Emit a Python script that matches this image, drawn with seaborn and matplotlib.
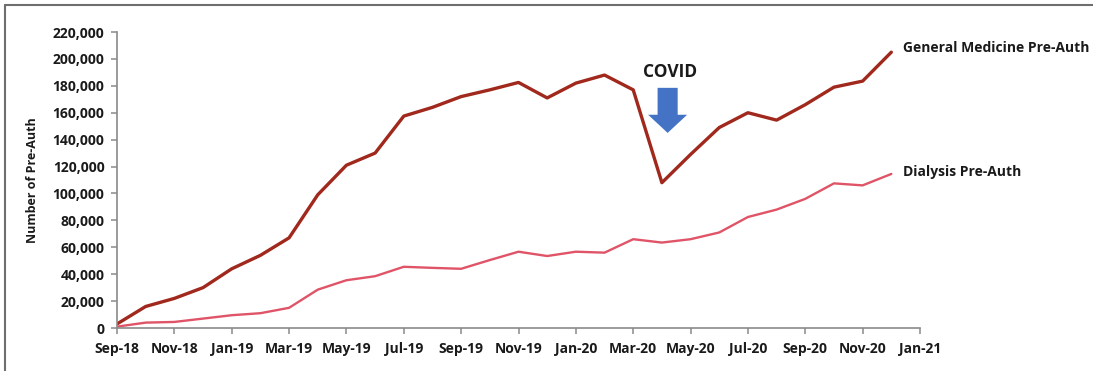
#!/usr/bin/env python3
import numpy as np
import pandas as pd
import matplotlib
matplotlib.use('Agg')
import matplotlib.pyplot as plt
from matplotlib.lines import Line2D
from matplotlib.patches import FancyArrow
import seaborn as sns

# monthly data, Sep-18 .. Dec-20
months = ['Sep-18', 'Oct-18', 'Nov-18', 'Dec-18', 'Jan-19', 'Feb-19', 'Mar-19',
          'Apr-19', 'May-19', 'Jun-19', 'Jul-19', 'Aug-19', 'Sep-19', 'Oct-19',
          'Nov-19', 'Dec-19', 'Jan-20', 'Feb-20', 'Mar-20', 'Apr-20', 'May-20',
          'Jun-20', 'Jul-20', 'Aug-20', 'Sep-20', 'Oct-20', 'Nov-20', 'Dec-20']
general_medicine = [3000, 16000, 22000, 30000, 44000, 54000, 67000,
                    99000, 121000, 130000, 157500, 164000, 172000, 177000,
                    182500, 171000, 182000, 188000, 177000, 108000, 129000,
                    149000, 160000, 154500, 166000, 179000, 183500, 205000]
dialysis = [1000, 4000, 4500, 7000, 9500, 11000, 15000,
            28500, 35500, 38500, 45500, 44700, 44000, 50500,
            56700, 53500, 56700, 56000, 66000, 63500, 66000,
            71000, 82500, 88000, 96000, 107500, 106000, 114500]
tick_labels = ['Sep-18', 'Nov-18', 'Jan-19', 'Mar-19', 'May-19', 'Jul-19', 'Sep-19',
               'Nov-19', 'Jan-20', 'Mar-20', 'May-20', 'Jul-20', 'Sep-20', 'Nov-20', 'Jan-21']
series_names = ['General Medicine Pre-Auth', 'Dialysis Pre-Auth']
colors = ['#A0281C', '#E05468']

df = pd.DataFrame({
    'month': list(range(len(months))) * 2,
    'value': general_medicine + dialysis,
    'series': [series_names[0]] * len(months) + [series_names[1]] * len(months),
})

sns.set_style('white')
plt.rcParams['font.family'] = ['Open Sans', 'DejaVu Sans']
plt.rcParams['text.color'] = '#1a1a1a'

fig = plt.figure(figsize=(10.93, 3.71), dpi=100)
ax = fig.add_axes([117 / 1093, 43 / 371, 803 / 1093, 296 / 371])

sns.lineplot(data=df, x='month', y='value', hue='series', palette=colors,
             size='series', sizes=[2.4, 1.7], legend=False, ax=ax)

fs = 10
ax.set_xlim(0, 28)
ax.set_ylim(0, 220000)
ax.set_xticks(range(0, 29, 2))
ax.set_xticklabels(tick_labels, fontsize=fs, fontweight='bold', color='#1a1a1a')
ax.set_yticks(range(0, 220001, 20000))
ax.set_yticklabels([f'{v:,}' for v in range(0, 220001, 20000)], fontsize=fs,
                   fontweight='bold', color='#1a1a1a')
ax.set_xlabel('')
ax.set_ylabel('Number of Pre-Auth', fontsize=9, fontweight='bold', labelpad=10,
              color='#1a1a1a')

for s in ['top', 'right']:
    ax.spines[s].set_visible(False)
for s in ['left', 'bottom']:
    ax.spines[s].set_color('#8a8a8a')
    ax.spines[s].set_linewidth(1.2)
ax.tick_params(axis='both', which='both', direction='out', length=4, width=1.1,
               color='#8a8a8a', left=True, bottom=True)
ax.tick_params(axis='x', pad=6)
ax.tick_params(axis='y', pad=5)

# end-of-line labels
ax.text(27.4, general_medicine[-1] + 3000, series_names[0], fontsize=fs,
        fontweight='bold', va='center', ha='left', clip_on=False)
ax.text(27.4, dialysis[-1] + 1500, series_names[1], fontsize=fs,
        fontweight='bold', va='center', ha='left', clip_on=False)

# COVID annotation
ax.text(19.3, 190000, 'COVID', fontsize=12.5, fontweight='bold', ha='center', va='center')
ax.add_patch(FancyArrow(19.2, 178500, 0, -33500, width=0.7, head_width=1.36,
                        head_length=13500, length_includes_head=True,
                        color='#4472C4', linewidth=0))

# outer frame (top and left edges visible)
fig.add_artist(Line2D([5 / 1093, 1], [1 - 5 / 371, 1 - 5 / 371], color='#6e6e6e', lw=1.5))
fig.add_artist(Line2D([5 / 1093, 5 / 1093], [0, 1 - 5 / 371], color='#6e6e6e', lw=1.5))

fig.savefig('out.png', dpi=100)
plt.close(fig)
